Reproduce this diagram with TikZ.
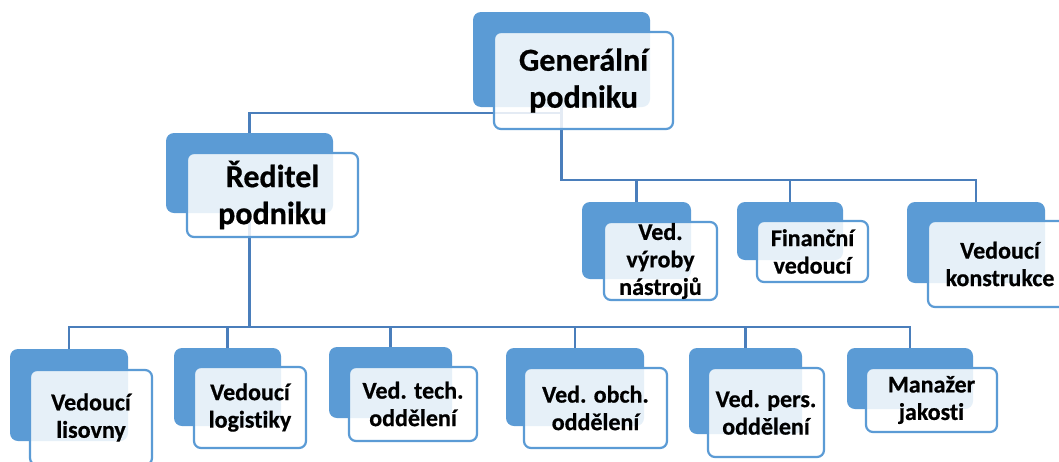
\documentclass[tikz,border=0pt]{standalone}
\usepackage{fontspec}
\setmainfont{Carlito}[Ligatures={NoCommon},BoldFeatures={FakeBold=0.6}]
\usetikzlibrary{backgrounds}
\definecolor{accentblue}{RGB}{91,155,213}
\definecolor{linkblue}{RGB}{74,126,187}
\begin{document}
\begin{tikzpicture}[x=1pt,y=-1pt,
  back/.style n args={2}{fill=accentblue, draw=none, rounded corners=8pt,
    minimum width=#1, minimum height=#2, inner sep=0pt},
  front/.style n args={2}{fill=white, fill opacity=0.85, text opacity=1,
    draw=accentblue, line width=2.2pt, rounded corners=7pt,
    minimum width=#1, minimum height=#2, inner sep=0pt, align=center},
  big/.style={font=\fontsize{32}{37}\selectfont\bfseries},
  small/.style={font=\fontsize{24}{27.5}\selectfont\bfseries},
  conn/.style={draw=linkblue, line width=2.4pt}]
\useasboundingbox (0,0) rectangle (1059,461);
% top
\node[back={177pt}{95pt}] (genB) at (561.5,59.5) {};
\node[front={179pt}{97pt}, big] (gen) at (583.5,80.5) {Generální\\podniku};
% director
\node[back={167pt}{80pt}] (redB) at (249.5,173) {};
\node[front={171pt}{84pt}, big] (red) at (272.5,195) {Ředitel\\podniku};
% right group
\node[back={109pt}{77pt}] (vyrB) at (636.5,240.5) {};
\node[front={113pt}{78pt}, small] (vyr) at (660.5,261) {Ved.\\výroby\\nástrojů};
\node[back={106pt}{58pt}] (finB) at (790,231) {};
\node[front={111pt}{61pt}, small] (fin) at (812.5,251.5) {Finanční\\vedoucí};
\node[back={138pt}{81pt}] (konB) at (976,242.5) {};
\node[front={144pt}{86pt}, small] (kon) at (1000,264) {Vedoucí\\konstrukce};
% bottom group
\node[back={118pt}{92pt}] (lisB) at (69,395) {};
\node[front={122pt}{95pt}, small] (lis) at (91,417.5) {Vedoucí\\lisovny};
\node[back={107pt}{78pt}] (logB) at (227.5,387) {};
\node[front={112pt}{81pt}, small] (log) at (250,407.5) {Vedoucí\\logistiky};
\node[back={123pt}{71pt}] (tecB) at (390.5,382.5) {};
\node[front={128pt}{74pt}, small] (tec) at (413,404) {Ved. tech.\\oddělení};
\node[back={138pt}{78pt}] (obcB) at (575,387) {};
\node[front={143pt}{80pt}, small] (obc) at (595.5,408) {Ved. obch.\\oddělení};
\node[back={113pt}{86pt}] (perB) at (745.5,391) {};
\node[front={116pt}{89pt}, small] (per) at (766,412.5) {Ved. pers.\\oddělení};
\node[back={126pt}{61pt}] (manB) at (910,378.5) {};
\node[front={131pt}{64pt}, small] (man) at (931.5,400) {Manažer\\jakosti};
% connectors
\coordinate (busA) at (0,113);
\coordinate (busB) at (0,180);
\coordinate (busC) at (0,327);
\begin{scope}[on background layer]
\fill[white] (0,0) rectangle (1059,461);
\draw[conn] (genB.center) |- (redB.center |- busA) -- (redB.center);
\draw[conn] (genB.center) |- (konB.center |- busB) -- (konB.center);
\draw[conn] (vyrB.center |- busB) -- (vyrB.center);
\draw[conn] (finB.center |- busB) -- (finB.center);
\draw[conn] (redB.center) |- (lisB.center |- busC) -- (lisB.center);
\draw[conn] (redB.center) |- (manB.center |- busC) -- (manB.center);
\draw[conn] (logB.center |- busC) -- (logB.center);
\draw[conn] (tecB.center |- busC) -- (tecB.center);
\draw[conn] (obcB.center |- busC) -- (obcB.center);
\draw[conn] (perB.center |- busC) -- (perB.center);
\end{scope}
\end{tikzpicture}
\end{document}
